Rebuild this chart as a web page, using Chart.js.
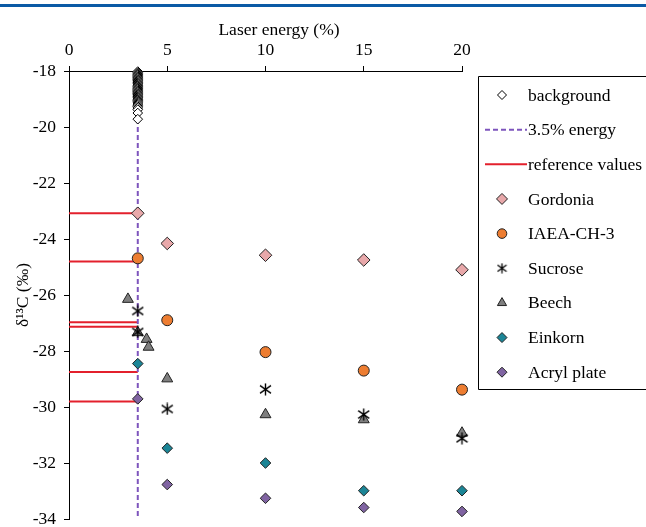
<!DOCTYPE html>
<html>
<head>
<meta charset="utf-8">
<script src="https://cdn.jsdelivr.net/npm/chart.js@4.4.1/dist/chart.umd.min.js"></script>
<style>
  html, body { margin: 0; padding: 0; background: #fff; }
  #wrap { position: relative; width: 646px; height: 527px; }
  #topRule { position: absolute; left: 0; top: 4px; width: 646px; height: 3px; background: #0b5aa5; }
  canvas { position: absolute; left: 0; top: 0; }
</style>
</head>
<body>
<div id="wrap">
  <canvas id="chart" width="646" height="527"></canvas>
  <div id="topRule"></div>
</div>
<script>
// === d13C vs laser energy ===

const FONT = "'Liberation Serif', 'Times New Roman', serif";
const FSIZE = 17.5;

// axis
const xTitle = 'Laser energy (%)';
const yTitle = 'δ¹³C (‰)';
const xTicks = [0, 5, 10, 15, 20];
const yTicks = [-34, -32, -30, -28, -26, -24, -22, -20, -18];

// background measurements, all at 3.5 % energy
const backgroundEnergy = 3.5;
const backgroundValues = [-18.02, -18.06, -18.1, -18.13, -18.16, -18.2, -18.23, -18.26, -18.3, -18.33,
  -18.36, -18.4, -18.43, -18.46, -18.5, -18.53, -18.56, -18.6, -18.63, -18.66,
  -18.7, -18.73, -18.76, -18.8, -18.83, -18.86, -18.9, -18.93, -18.96, -19.0,
  -19.03, -19.06, -19.1, -19.14, -19.18, -19.22, -19.27, -19.32, -19.38, -19.5, -19.72];

// vertical marker line
const energyLineX = 3.5;

// reference values (drawn from 0 to 3.5 %)
const referenceValues = [-23.08, -24.8, -26.97, -27.13, -28.75, -29.8];

// samples
const gordoniaX = [3.5, 5, 10, 15, 20];
const gordoniaY = [-23.08, -24.16, -24.58, -24.75, -25.1];

const iaeaX = [3.5, 5, 10, 15, 20];
const iaeaY = [-24.69, -26.9, -28.04, -28.7, -29.38];

const sucroseX = [3.5, 3.5, 5, 10, 15, 20];
const sucroseY = [-26.57, -27.32, -30.07, -29.37, -30.27, -31.12];

const beechX = [3.0, 3.5, 3.95, 4.05, 5, 10, 15, 20];
const beechY = [-26.15, -27.34, -27.58, -27.86, -28.99, -30.27, -30.45, -30.93];

const einkornX = [3.5, 5, 10, 15, 20];
const einkornY = [-28.45, -31.47, -32.0, -32.99, -32.99];

const acrylX = [3.5, 5, 10, 15, 20];
const acrylY = [-29.71, -32.77, -33.26, -33.59, -33.73];

const toPoints = (xs, ys) => xs.map((x, i) => ({ x: x, y: ys[i] }));

// asterisk marker for sucrose
function makeAsterisk(size, lw) {
    const c = document.createElement('canvas');
    c.width = size; c.height = size;
    const g = c.getContext('2d');
    const m = size / 2;
    g.strokeStyle = '#000';
    g.lineWidth = lw;
    g.beginPath();
    g.moveTo(m, 0.5); g.lineTo(m, size - 0.5);
    g.moveTo(1, size * 0.2); g.lineTo(size - 1, size * 0.8);
    g.moveTo(1, size * 0.8); g.lineTo(size - 1, size * 0.2);
    g.stroke();
    return c;
}
const asterisk = makeAsterisk(13, 1.4);
const asteriskSmall = makeAsterisk(11, 1.3);

const marker = (color, style, radius) => ({
    type: 'scatter',
    pointStyle: style,
    pointRadius: radius,
    pointHoverRadius: radius,
    backgroundColor: color,
    borderColor: '#222',
    pointBorderWidth: 1,
    clip: false,
    order: 1
});

const datasets = [
    Object.assign(marker('#ffffff', 'rectRot', 4.8), {
        label: 'background',
        data: backgroundValues.map(v => ({ x: backgroundEnergy, y: v })),
        borderColor: '#000',
        order: 2, legendRadius: 4.5
    }),
    {
        type: 'line',
        label: '3.5% energy',
        data: [{ x: energyLineX, y: yTicks[yTicks.length - 1] }, { x: energyLineX, y: yTicks[0] }],
        borderColor: '#7e55bd',
        borderWidth: 2,
        borderDash: [5, 3],
        pointRadius: 0,
        fill: false,
        order: 20,
        legendLine: true
    },
    ...referenceValues.map((v, i) => ({
        type: 'line',
        label: i === 0 ? 'reference values' : '',
        data: [{ x: 0, y: v }, { x: energyLineX, y: v }],
        borderColor: '#e3202c',
        borderWidth: 2,
        pointRadius: 0,
        fill: false,
        order: 30,
        legendLine: i === 0,
        noLegend: i > 0
    })),
    Object.assign(marker('#e8a8aa', 'rectRot', 6.3), {
        label: 'Gordonia', data: toPoints(gordoniaX, gordoniaY), legendRadius: 5.5
    }),
    Object.assign(marker('#ed7d31', 'circle', 5.5), {
        label: 'IAEA-CH-3', data: toPoints(iaeaX, iaeaY), legendRadius: 4.8
    }),
    Object.assign(marker('#000', asterisk, 6), {
        label: 'Sucrose', data: toPoints(sucroseX, sucroseY), legendImage: asteriskSmall
    }),
    Object.assign(marker('#7f7f7f', 'triangle', 6.3), {
        label: 'Beech', data: toPoints(beechX, beechY), legendRadius: 5.3
    }),
    Object.assign(marker('#1b8596', 'rectRot', 5.3), {
        label: 'Einkorn', data: toPoints(einkornX, einkornY), legendRadius: 5
    }),
    Object.assign(marker('#8064a2', 'rectRot', 5.3), {
        label: 'Acryl plate', data: toPoints(acrylX, acrylY), legendRadius: 5
    })
];

// boxed legend on the right + the x title (sits off-centre in the original)
const boxLegend = {
    id: 'boxLegend',
    afterDraw(chart) {
        const ctx = chart.ctx;
        const left = 478.5, top = 76.5, bottom = 389.5;
        const rowTop = 95, rowStep = 34.65;
        ctx.save();
        ctx.font = FSIZE + 'px ' + FONT;
        ctx.fillStyle = '#000';
        ctx.textAlign = 'center';
        ctx.textBaseline = 'middle';
        ctx.fillText(xTitle, 279, 30);

        ctx.strokeStyle = '#000';
        ctx.lineWidth = 1;
        ctx.beginPath();
        ctx.moveTo(700, top); ctx.lineTo(left, top); ctx.lineTo(left, bottom); ctx.lineTo(700, bottom);
        ctx.stroke();

        ctx.textAlign = 'left';
        let row = 0;
        chart.data.datasets.forEach(ds => {
            if (ds.noLegend) return;
            const y = rowTop + row * rowStep;
            ctx.save();
            if (ds.legendLine) {
                ctx.strokeStyle = ds.borderColor;
                ctx.lineWidth = ds.borderWidth;
                ctx.setLineDash(ds.borderDash || []);
                ctx.beginPath();
                ctx.moveTo(485, y); ctx.lineTo(527, y);
                ctx.stroke();
            } else if (ds.legendImage) {
                ctx.drawImage(ds.legendImage, 502 - ds.legendImage.width / 2, y - ds.legendImage.height / 2);
            } else {
                ctx.fillStyle = ds.backgroundColor;
                ctx.strokeStyle = ds.borderColor;
                ctx.lineWidth = 1;
                Chart.helpers.drawPoint(ctx, {
                    pointStyle: ds.pointStyle, radius: ds.legendRadius, rotation: 0, borderWidth: 1
                }, 502, y);
            }
            ctx.restore();
            ctx.fillStyle = '#000';
            ctx.fillText(ds.label, 528, y + 1);
            row++;
        });
        ctx.restore();
    }
};

new Chart(document.getElementById('chart'), {
    type: 'scatter',
    data: { datasets: datasets },
    options: {
        responsive: false,
        animation: false,
        layout: { padding: { left: 0, top: 0, right: 184, bottom: 8 } },
        plugins: {
            legend: { display: false },
            tooltip: { enabled: false }
        },
        scales: {
            x: {
                type: 'linear',
                position: 'top',
                min: xTicks[0],
                max: xTicks[xTicks.length - 1],
                afterBuildTicks: s => { s.ticks = xTicks.map(v => ({ value: v })); },
                afterFit: s => { s.height = 71; s.paddingLeft = 0; s.paddingRight = 0; },
                ticks: { color: '#000', padding: 5, font: { family: FONT, size: FSIZE } },
                grid: { drawOnChartArea: false, drawTicks: true, tickLength: 5, color: '#000' },
                border: { color: '#000', width: 1 },
                title: { display: false }
            },
            y: {
                type: 'linear',
                min: yTicks[0],
                max: yTicks[yTicks.length - 1],
                afterBuildTicks: s => { s.ticks = yTicks.map(v => ({ value: v })); },
                afterFit: s => { s.width = 69; s.paddingTop = 0; s.paddingBottom = 0; },
                ticks: { color: '#000', padding: 8, font: { family: FONT, size: FSIZE, lineHeight: 1 } },
                grid: { drawOnChartArea: false, drawTicks: true, tickLength: 5, color: '#000' },
                border: { color: '#000', width: 1 },
                title: {
                    display: true, text: yTitle, color: '#000',
                    font: { family: FONT, size: FSIZE }, padding: { top: 13, bottom: 0 }
                }
            }
        }
    },
    plugins: [boxLegend]
});
</script>
</body>
</html>
